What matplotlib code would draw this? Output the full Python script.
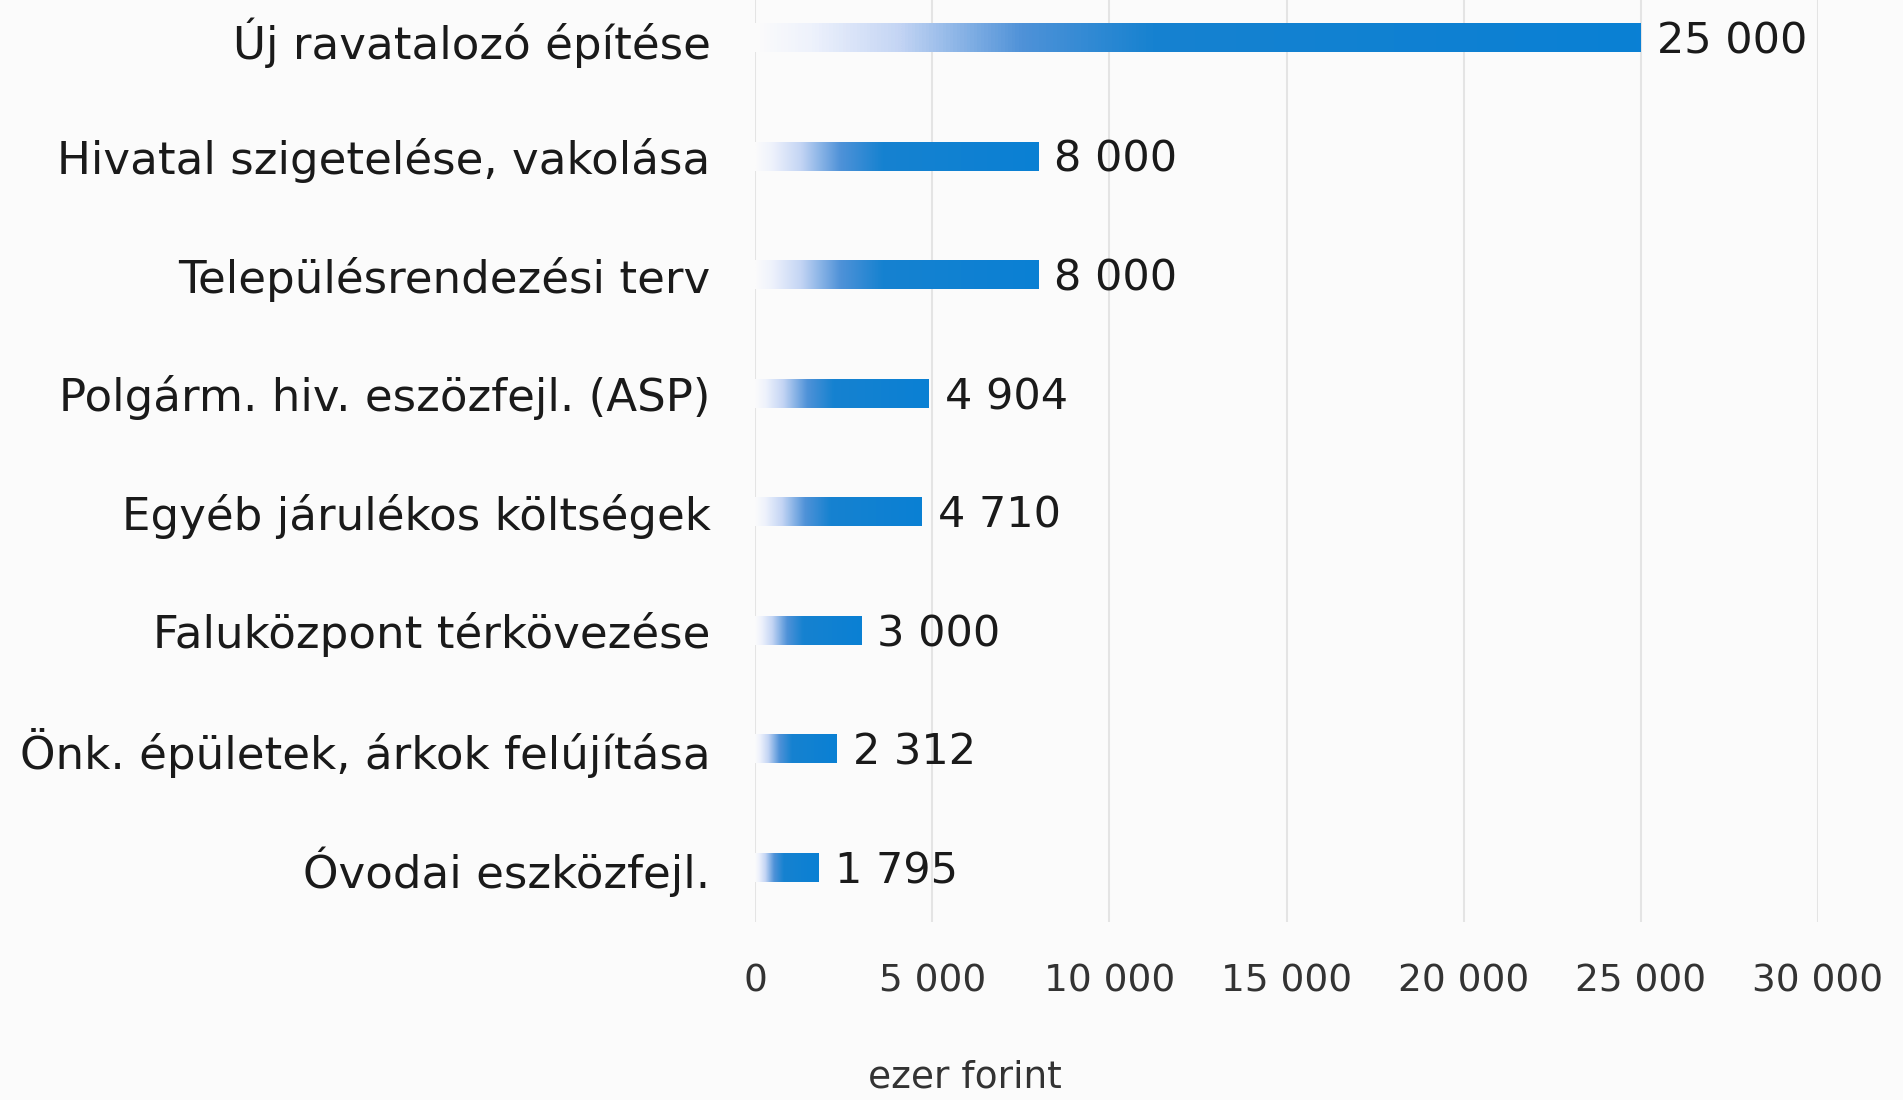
import numpy as np
import matplotlib.pyplot as plt
from matplotlib.colors import LinearSegmentedColormap

# adatok
categories = ['Új ravatalozó építése', 'Hivatal szigetelése, vakolása',
              'Településrendezési terv', 'Polgárm. hiv. eszözfejl. (ASP)',
              'Egyéb járulékos költségek', 'Faluközpont térkövezése',
              'Önk. épületek, árkok felújítása', 'Óvodai eszközfejl.']
values = [25000, 8000, 8000, 4904, 4710, 3000, 2312, 1795]
value_labels = ['25 000', '8 000', '8 000', '4 904', '4 710', '3 000', '2 312', '1 795']
xticks = [0, 5000, 10000, 15000, 20000, 25000, 30000]
xtick_labels = ['0', '5 000', '10 000', '15 000', '20 000', '25 000', '30 000']

plt.rcParams['font.family'] = ['DejaVu Sans']
bg = '#fbfbfb'
fig = plt.figure(figsize=(19.03, 11), dpi=100, facecolor=bg)
ax = fig.add_axes([755 / 1903, 1 - 922 / 1100, (1818 - 755) / 1903, 922 / 1100])
ax.set_facecolor(bg)

cmap = LinearSegmentedColormap.from_list('fade', [
    (0.0, '#fbfbfb'), (0.06, '#eef2fc'), (0.16, '#c4d5f4'),
    (0.3, '#4f92d8'), (0.45, '#1682d0'), (1.0, '#0a80d4')])
grad = np.linspace(0, 1, 256).reshape(1, -1)

h = 0.24
for i, v in enumerate(values):
    ax.imshow(grad, cmap=cmap, aspect='auto', extent=[0, v, i + h / 2, i - h / 2],
              interpolation='bilinear', zorder=2)
    ax.text(v + 450, i + 0.03, value_labels[i], va='center', ha='left',
            fontsize=31, color='#1a1a1a')

for x in xticks:
    ax.axvline(x, color='#e4e4e4', lw=1.5, zorder=1)

ax.set_xlim(0, 30000)
ax.set_ylim(len(values) - 1 + 0.46, -0.32)
ax.set_yticks(range(len(categories)))
ax.set_yticklabels(categories, fontsize=32.5, color='#1a1a1a')
ax.set_xticks(xticks)
ax.set_xticklabels(xtick_labels, fontsize=27, color='#333333')
ax.tick_params(axis='y', length=0, pad=32)
ax.tick_params(axis='x', length=0, pad=30)
for s in ax.spines.values():
    s.set_visible(False)

fig.text(965 / 1903, 1 - 1078 / 1100, 'ezer forint', ha='center', va='center',
         fontsize=27, color='#333333')

fig.savefig('out.png', dpi=100, facecolor=bg)
